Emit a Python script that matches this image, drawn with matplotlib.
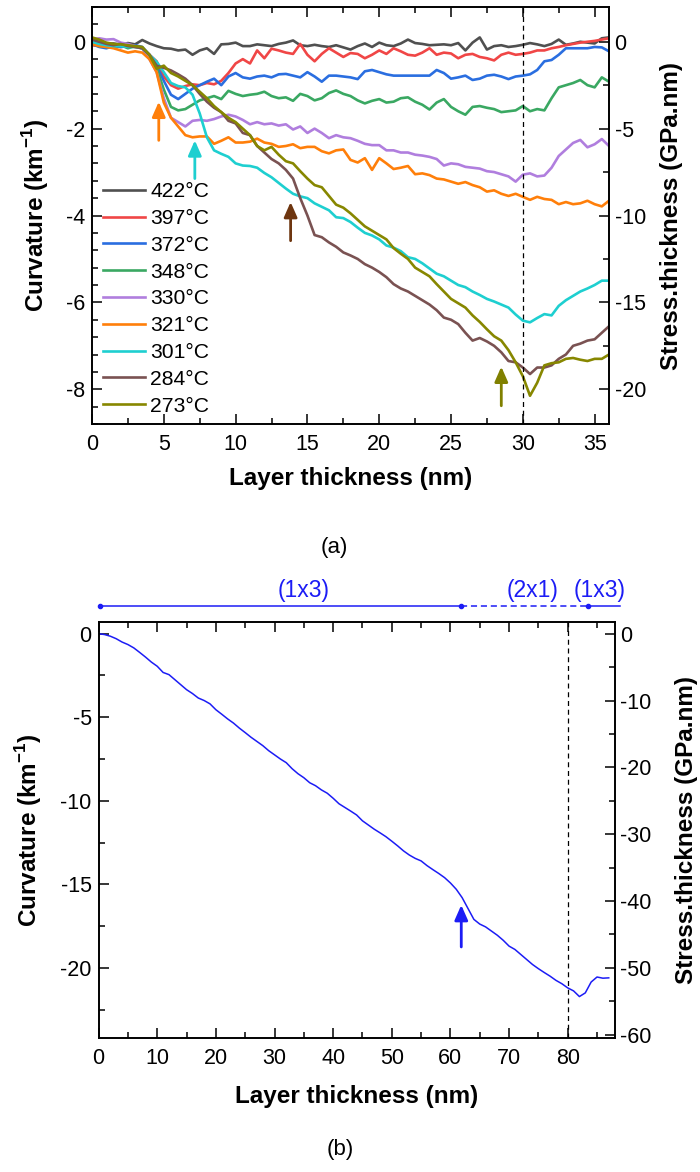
import numpy as np
import matplotlib
matplotlib.use("Agg")
import matplotlib.pyplot as plt
from matplotlib.ticker import MultipleLocator
from matplotlib.transforms import blended_transform_factory

plt.rcParams['font.family'] = ['Liberation Sans', 'DejaVu Sans']
plt.rcParams['mathtext.fontset'] = 'custom'
plt.rcParams['mathtext.rm'] = 'Liberation Sans'
plt.rcParams['mathtext.bf'] = 'Liberation Sans:bold'
plt.rcParams['axes.unicode_minus'] = False

# ---------------- data, panel (a) ----------------
thick_a = np.arange(73) * 0.5   # 0 ... 36 nm

k422 = [0.02, -0.02, -0.05, -0.04, -0.07, -0.03, -0.06, 0.04, -0.04, -0.1, -0.15, -0.16, -0.2, -0.18, -0.3,
        -0.2, -0.15, -0.28, -0.06, -0.05, -0.02, -0.1, -0.1, -0.06, -0.08, -0.1, -0.05, -0.02, 0.03, -0.08,
        -0.1, -0.07, -0.1, -0.12, -0.08, -0.13, -0.18, -0.1, -0.04, -0.12, -0.02, -0.08, -0.1, -0.04, 0.05,
        -0.03, -0.05, -0.08, -0.07, -0.06, -0.08, -0.03, -0.2, -0.02, 0.1, -0.18, -0.1, -0.08, -0.12, -0.1,
        -0.07, -0.03, -0.06, -0.1, -0.05, 0.05, -0.07, -0.04, 0.0, -0.02, -0.04, 0.08, 0.1]
k397 = [-0.08, -0.1, -0.12, -0.08, -0.12, -0.1, -0.12, -0.15, -0.3, -0.45, -0.8, -1.0, -1.08, -1.02, -0.98,
        -1.0, -0.95, -0.98, -0.9, -0.72, -0.5, -0.4, -0.5, -0.2, -0.38, -0.16, -0.2, -0.25, -0.28, -0.05,
        -0.3, -0.45, -0.28, -0.15, -0.25, -0.35, -0.26, -0.28, -0.38, -0.3, -0.2, -0.28, -0.15, -0.22, -0.3,
        -0.32, -0.25, -0.15, -0.3, -0.25, -0.27, -0.38, -0.3, -0.28, -0.35, -0.38, -0.43, -0.3, -0.25, -0.3,
        -0.28, -0.25, -0.2, -0.2, -0.15, -0.12, -0.08, -0.05, -0.02, 0.0, 0.02, 0.05, 0.08]
k372 = [-0.05, -0.12, -0.15, -0.1, -0.12, -0.1, -0.08, -0.12, -0.3, -0.55, -0.9, -1.22, -1.32, -1.2, -1.08,
        -1.0, -0.92, -0.85, -1.0, -0.8, -0.72, -0.82, -0.85, -0.8, -0.78, -0.82, -0.75, -0.74, -0.78, -0.82,
        -0.7, -0.8, -0.92, -0.78, -0.78, -0.8, -0.82, -0.86, -0.68, -0.65, -0.7, -0.75, -0.78, -0.78, -0.78,
        -0.78, -0.78, -0.78, -0.65, -0.72, -0.85, -0.82, -0.78, -0.88, -0.85, -0.78, -0.76, -0.8, -0.86, -0.8,
        -0.78, -0.75, -0.65, -0.45, -0.42, -0.3, -0.15, -0.15, -0.15, -0.15, -0.12, -0.13, -0.22]
k348 = [-0.05, -0.1, -0.12, -0.12, -0.08, -0.15, -0.1, -0.15, -0.35, -0.6, -1.1, -1.5, -1.58, -1.55, -1.45,
        -1.35, -1.3, -1.25, -1.32, -1.13, -1.2, -1.25, -1.22, -1.2, -1.15, -1.25, -1.3, -1.28, -1.36, -1.2,
        -1.25, -1.35, -1.3, -1.18, -1.12, -1.2, -1.25, -1.35, -1.42, -1.36, -1.32, -1.4, -1.38, -1.3, -1.28,
        -1.38, -1.45, -1.56, -1.4, -1.32, -1.5, -1.6, -1.68, -1.5, -1.48, -1.52, -1.55, -1.62, -1.6, -1.58,
        -1.48, -1.6, -1.55, -1.58, -1.3, -1.05, -1.0, -0.95, -0.88, -1.0, -1.05, -0.82, -0.92]
k330 = [0.05, 0.08, 0.05, 0.06, -0.02, -0.05, -0.1, -0.15, -0.4, -0.7, -1.3, -1.75, -1.85, -1.95, -1.82,
        -1.8, -1.82, -1.78, -1.72, -1.68, -1.72, -1.8, -1.9, -1.85, -1.9, -1.88, -1.93, -1.9, -2.02, -1.95,
        -2.1, -2.0, -2.1, -2.22, -2.15, -2.2, -2.22, -2.28, -2.35, -2.38, -2.38, -2.5, -2.5, -2.55, -2.55,
        -2.6, -2.62, -2.65, -2.7, -2.85, -2.8, -2.82, -2.88, -2.9, -2.92, -2.98, -3.0, -3.05, -3.1, -3.22,
        -3.06, -3.03, -3.1, -3.08, -2.9, -2.63, -2.48, -2.33, -2.26, -2.43, -2.36, -2.24, -2.4]
k321 = [-0.05, -0.1, -0.12, -0.15, -0.2, -0.25, -0.22, -0.25, -0.4, -0.7, -1.4, -1.75, -1.95, -2.15, -2.2,
        -2.18, -2.18, -2.35, -2.28, -2.2, -2.32, -2.32, -2.3, -2.23, -2.32, -2.35, -2.42, -2.4, -2.36, -2.45,
        -2.42, -2.42, -2.52, -2.57, -2.5, -2.48, -2.72, -2.78, -2.68, -2.95, -2.68, -2.8, -2.93, -2.9, -2.86,
        -3.05, -3.03, -3.07, -3.15, -3.17, -3.22, -3.27, -3.23, -3.3, -3.35, -3.45, -3.42, -3.5, -3.55, -3.5,
        -3.57, -3.64, -3.57, -3.62, -3.64, -3.74, -3.69, -3.74, -3.72, -3.66, -3.74, -3.79, -3.66]
k301 = [0.0, -0.05, -0.08, -0.1, -0.1, -0.12, -0.12, -0.15, -0.3, -0.46, -0.7, -0.95, -1.02, -1.05, -1.22,
        -1.65, -2.2, -2.5, -2.58, -2.65, -2.8, -2.85, -2.86, -2.9, -3.02, -3.12, -3.25, -3.38, -3.5, -3.56,
        -3.6, -3.72, -3.8, -3.88, -4.04, -4.06, -4.15, -4.28, -4.4, -4.46, -4.55, -4.69, -4.74, -4.82, -4.96,
        -5.0, -5.1, -5.22, -5.34, -5.4, -5.5, -5.6, -5.65, -5.75, -5.83, -5.92, -5.98, -6.05, -6.12, -6.28,
        -6.42, -6.46, -6.36, -6.27, -6.3, -6.08, -5.95, -5.85, -5.75, -5.68, -5.6, -5.5, -5.5]
k284 = [0.05, 0.0, -0.05, -0.08, -0.05, -0.1, -0.12, -0.15, -0.3, -0.55, -0.6, -0.66, -0.75, -0.85, -1.0,
        -1.2, -1.38, -1.52, -1.62, -1.82, -1.88, -2.1, -2.15, -2.4, -2.55, -2.7, -2.8, -2.95, -3.15, -3.6,
        -4.0, -4.45, -4.5, -4.62, -4.72, -4.85, -4.92, -5.0, -5.12, -5.2, -5.3, -5.42, -5.58, -5.68, -5.75,
        -5.85, -5.95, -6.05, -6.18, -6.35, -6.4, -6.5, -6.7, -6.88, -6.82, -6.9, -7.0, -7.15, -7.35, -7.38,
        -7.5, -7.65, -7.5, -7.5, -7.45, -7.3, -7.2, -7.0, -6.95, -6.88, -6.85, -6.7, -6.55]
k273 = [0.1, 0.05, -0.02, -0.05, -0.06, -0.08, -0.1, -0.12, -0.3, -0.62, -0.55, -0.72, -0.8, -0.9, -1.0,
        -1.15, -1.3, -1.48, -1.62, -1.75, -1.85, -2.0, -2.15, -2.4, -2.5, -2.42, -2.6, -2.75, -2.8, -2.98,
        -3.15, -3.3, -3.35, -3.55, -3.75, -3.82, -3.95, -4.1, -4.25, -4.35, -4.45, -4.55, -4.75, -4.88, -5.0,
        -5.2, -5.3, -5.4, -5.58, -5.75, -5.92, -6.02, -6.12, -6.3, -6.45, -6.62, -6.78, -6.88, -7.1, -7.38,
        -7.7, -8.15, -7.85, -7.45, -7.4, -7.38, -7.3, -7.28, -7.32, -7.35, -7.3, -7.3, -7.2]

temps = ['422°C', '397°C', '372°C', '348°C', '330°C', '321°C', '301°C', '284°C', '273°C']
curves_a = [k422, k397, k372, k348, k330, k321, k301, k284, k273]
colors_a = ['#505050', '#f04646', '#2a6ee0', '#3aa862', '#b07ede', '#ff7f0a', '#1ecfd0', '#7a5252', '#878700']

# arrows (x, tail, head) and colours
arrows_a = [(4.65, -2.27, -1.38, '#ff7f0a'), (7.16, -3.15, -2.27, '#1ecfd0'),
            (13.83, -4.58, -3.69, '#6e3610'), (28.5, -8.38, -7.48, '#808000')]

# ---------------- data, panel (b) ----------------
thick_b = np.arange(88) * 1.0   # 0 ... 87 nm
k_b = [0.0, -0.05, -0.15, -0.3, -0.5, -0.65, -0.85, -1.12, -1.4, -1.7, -1.95, -2.32, -2.45, -2.75, -3.05,
       -3.35, -3.58, -3.85, -4.0, -4.2, -4.55, -4.82, -5.1, -5.35, -5.65, -5.92, -6.2, -6.45, -6.7, -7.0,
       -7.25, -7.5, -7.72, -8.08, -8.38, -8.62, -8.92, -9.1, -9.35, -9.55, -9.85, -10.18, -10.4, -10.62,
       -10.85, -11.2, -11.45, -11.7, -11.92, -12.15, -12.42, -12.7, -13.0, -13.25, -13.45, -13.6, -13.88,
       -14.12, -14.35, -14.6, -14.92, -15.3, -15.8, -16.45, -17.1, -17.38, -17.55, -17.8, -18.05, -18.35,
       -18.7, -18.9, -19.2, -19.5, -19.8, -20.05, -20.28, -20.5, -20.75, -20.95, -21.2, -21.38, -21.72,
       -21.5, -20.85, -20.55, -20.62, -20.6]
blue_b = '#1c1cf5'
phase_edges = [0.3, 61.8, 83.5, 89.0]
phase_names = ['(1x3)', '(2x1)', '(1x3)']
phase_label_x = [34.9, 74.0, 85.5]

FS_TICK = 15.5
FS_LAB = 17.5

fig = plt.figure(figsize=(7.0, 11.72), dpi=100)


def style(ax, ax2):
    for a in (ax, ax2):
        for s in a.spines.values():
            s.set_linewidth(1.2)
    ax.tick_params(which='both', direction='in', top=True, right=False, width=1.1,
                   labelsize=FS_TICK)
    ax.tick_params(which='major', length=7)
    ax.tick_params(which='minor', length=4)
    ax.tick_params(axis='x', pad=7)
    ax.tick_params(axis='y', pad=5)
    ax2.tick_params(which='both', direction='in', width=1.1, labelsize=FS_TICK, pad=4)
    ax2.tick_params(which='major', length=7)
    ax2.tick_params(which='minor', length=4)


# ---------------- panel (a) ----------------
ax = fig.add_axes([92 / 700, 1 - 424 / 1172, 517 / 700, 417 / 1172])
ax2 = ax.twinx()
for k, c, t in zip(curves_a, colors_a, temps):
    ax.plot(thick_a, k, color=c, lw=1.9, label=t)
ax.axvline(30, color='black', ls=(0, (4, 3)), lw=0.9)
for x, y0, y1, c in arrows_a:
    ax.annotate('', xy=(x, y1), xytext=(x, y0),
                arrowprops=dict(arrowstyle='-|>,head_length=0.5,head_width=0.22', color=c, lw=2.0,
                                mutation_scale=18, shrinkA=0, shrinkB=0))
ax.set_xlim(0, 36)
ax.set_ylim(-8.8, 0.8)
ax2.set_ylim(-8.8 * 2.5, 0.8 * 2.5)
ax.xaxis.set_major_locator(MultipleLocator(5))
ax.xaxis.set_minor_locator(MultipleLocator(2.5))
ax.yaxis.set_major_locator(MultipleLocator(2))
ax.yaxis.set_minor_locator(MultipleLocator(0.4))
ax2.yaxis.set_major_locator(MultipleLocator(5))
ax2.yaxis.set_minor_locator(MultipleLocator(2.5))
style(ax, ax2)
ax.set_xlabel('Layer thickness (nm)', fontsize=FS_LAB, fontweight='bold', va='center')
ax.xaxis.set_label_coords(0.5, -0.13)
ax.set_ylabel(r'Curvature (km$^{\mathbf{-1}}$)', fontsize=FS_LAB, fontweight='bold', va='center')
ax.yaxis.set_label_coords(-0.11, 0.5)
ax2.set_ylabel('Stress.thickness (GPa.nm)', fontsize=FS_LAB, fontweight='bold', va='center')
ax2.yaxis.set_label_coords(1.12, 0.5)
ax.legend(loc='upper left', bbox_to_anchor=(0.021, 0.58), frameon=False, fontsize=15.2,
          handlelength=2.0, handletextpad=0.25, labelspacing=0.37, borderpad=0, borderaxespad=0)
fig.text(334 / 700, 1 - 547 / 1172, '(a)', fontsize=16, ha='center', va='center')

# ---------------- panel (b) ----------------
bx = fig.add_axes([98.6 / 700, 1 - 1038 / 1172, 516 / 700, 416 / 1172])
bx2 = bx.twinx()
bx.plot(thick_b, k_b, color=blue_b, lw=1.1)
bx.axvline(80, color='black', ls=(0, (4, 3)), lw=0.9)
bx.annotate('', xy=(61.85, -16.24), xytext=(61.85, -18.75),
            arrowprops=dict(arrowstyle='-|>,head_length=0.5,head_width=0.22', color=blue_b, lw=2.0,
                            mutation_scale=18, shrinkA=0, shrinkB=0))
bx.set_xlim(0, 88)
bx.set_ylim(-24.2, 0.7)
bx2.set_ylim(-24.2 * 2.5, 0.7 * 2.5)
bx.xaxis.set_major_locator(MultipleLocator(10))
bx.xaxis.set_minor_locator(MultipleLocator(5))
bx.yaxis.set_major_locator(MultipleLocator(5))
bx.yaxis.set_minor_locator(MultipleLocator(2.5))
bx2.yaxis.set_major_locator(MultipleLocator(10))
bx2.yaxis.set_minor_locator(MultipleLocator(5))
style(bx, bx2)
bx.set_xlabel('Layer thickness (nm)', fontsize=FS_LAB, fontweight='bold', va='center')
bx.xaxis.set_label_coords(0.5, -0.14)
bx.set_ylabel(r'Curvature (km$^{\mathbf{-1}}$)', fontsize=FS_LAB, fontweight='bold', va='center')
bx.yaxis.set_label_coords(-0.135, 0.5)
bx2.set_ylabel('Stress.thickness (GPa.nm)', fontsize=FS_LAB, fontweight='bold', va='center')
bx2.yaxis.set_label_coords(1.14, 0.5)

# surface reconstruction bar above panel (b)
tr = blended_transform_factory(bx.transData, bx.transAxes)
styles = ['-', (0, (4, 2.5)), '-']
for i in range(3):
    bx.plot(phase_edges[i:i + 2], [1.039, 1.039], transform=tr, color=blue_b, lw=1.1,
            ls=styles[i], clip_on=False)
    bx.text(phase_label_x[i], 1.075, phase_names[i], transform=tr, color=blue_b,
            fontsize=16.5, ha='center', va='center', clip_on=False)
bx.plot(phase_edges[:3], [1.039] * 3, 'o', ms=3, color=blue_b, transform=tr, clip_on=False)
fig.text(340 / 700, 1 - 1150 / 1172, '(b)', fontsize=16, ha='center', va='center')

fig.savefig('out.png', dpi=100)
